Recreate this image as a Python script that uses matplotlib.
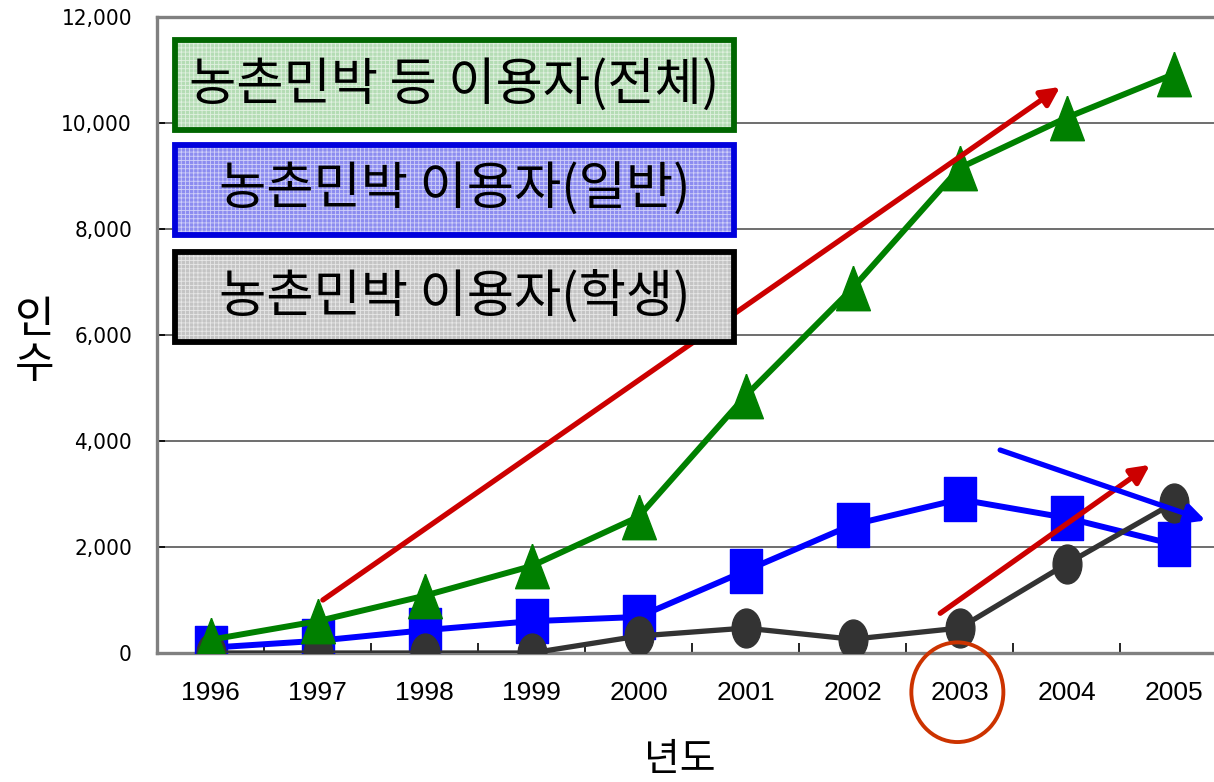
import matplotlib.pyplot as plt
import numpy as np
from matplotlib.path import Path
from matplotlib.patches import Rectangle, Ellipse

years = ['1996', '1997', '1998', '1999', '2000', '2001', '2002', '2003', '2004', '2005']
total = [250, 600, 1080, 1640, 2570, 4850, 6880, 9150, 10100, 10920]
general = [100, 230, 430, 600, 680, 1550, 2420, 2900, 2550, 2050]
student = [0, 0, 0, 0, 320, 470, 260, 470, 1680, 2830]

legend_labels = ['농촌민박 등 이용자(전체)', '농촌민박 이용자(일반)', '농촌민박 이용자(학생)']

# trend arrows drawn over the chart: (x0, y0, x1, y1) in data units
arrows = [
    (1.05, 1000, 7.94, 10680, '#cc0000'),
    (6.82, 750, 8.78, 3550, '#cc0000'),
    (7.38, 3830, 9.30, 2500, '#0000ff'),
]

kr = ['Noto Sans CJK KR', 'DejaVu Sans']
plt.rcParams['font.family'] = kr

fig = plt.figure(figsize=(12.14, 7.82), dpi=100)
ax = fig.add_axes([157 / 1214, 1 - 653 / 782, 1070 / 1214, 636 / 782])

x = np.arange(len(years))

# markers in the reference are stretched vertically
sx = 0.76
tri = Path([(0, 0.5), (-0.5 * sx, -0.5), (0.5 * sx, -0.5), (0, 0.5)])
sq = Path([(-0.5 * sx, -0.5), (0.5 * sx, -0.5), (0.5 * sx, 0.5), (-0.5 * sx, 0.5), (-0.5 * sx, -0.5)])
uc = Path.unit_circle()
circ = Path(uc.vertices * np.array([0.74, 1.0]), uc.codes)

ax.plot(x, general, color='#0000ff', lw=4.3, marker=sq, ms=31, zorder=3)
ax.plot(x, student, color='#333333', lw=3.8, marker=circ, ms=28, zorder=4)
ax.plot(x, total, color='#008000', lw=4.3, marker=tri, ms=32, zorder=5)

for x0, y0, x1, y1, c in arrows:
    ax.annotate('', xy=(x1, y1), xytext=(x0, y0),
                arrowprops=dict(arrowstyle='-|>', color=c, lw=3.8, mutation_scale=28,
                                shrinkA=0, shrinkB=0), zorder=6)

ax.add_patch(Ellipse((6.98, -740), 0.86, 1880, fill=False, edgecolor='#cc3300',
                     lw=2.8, clip_on=False, zorder=6))

ax.set_xlim(-0.5, 9.5)
ax.set_ylim(0, 12000)
ax.set_xticks(x)
ax.set_xticklabels(years, family=['Liberation Sans', 'DejaVu Sans'], fontsize=19)
ax.set_xticks(np.arange(0.5, 9.5, 1), minor=True)
ax.tick_params(axis='x', which='major', length=0, pad=20)
ax.tick_params(axis='x', which='minor', length=7, direction='in', width=1.2)
ax.set_yticks(np.arange(0, 12001, 2000))
ax.set_yticklabels(['{:,}'.format(v) for v in range(0, 12001, 2000)],
                   family=['DejaVu Sans'], fontstretch='condensed', fontsize=16)
ax.tick_params(axis='y', length=6, direction='in', width=1.2, pad=18)
ax.yaxis.grid(True, color='#555555', lw=1.2)
ax.set_axisbelow(True)

for s in ['left', 'top', 'bottom']:
    ax.spines[s].set_color('#808080')
    ax.spines[s].set_linewidth(2.4)
ax.spines['right'].set_visible(False)

fig.text(35 / 1214, 1 - 343 / 782, '인\n수', ha='center', va='center', fontsize=31, linespacing=1.05)
fig.text(680 / 1214, 1 - 760 / 782, '년도', ha='center', va='center', fontsize=28)

# legend boxes
boxes = [
    (40, '#006600', '#b4dcb4'),
    (145, '#0000dd', '#8c8cf0'),
    (252, '#000000', '#c4c4c4'),
]
plt.rcParams['hatch.linewidth'] = 0.6
for (top, ec, fc), label in zip(boxes, legend_labels):
    x0 = 175 / 1214
    w = 559 / 1214
    h = 90 / 782
    y0 = 1 - (top + 90) / 782
    fig.patches.append(Rectangle((x0, y0), w, h, transform=fig.transFigure,
                                 facecolor=fc, edgecolor='none', zorder=7))
    fig.patches.append(Rectangle((x0, y0), w, h, transform=fig.transFigure,
                                 facecolor='none', edgecolor='white', hatch='++++',
                                 lw=0, alpha=0.6, zorder=7))
    fig.patches.append(Rectangle((x0, y0), w, h, transform=fig.transFigure,
                                 facecolor='none', edgecolor=ec, lw=4.2, zorder=8))
    fig.text(x0 + w / 2, y0 + h / 2, label, ha='center', va='center',
             fontsize=37, color='black', zorder=9)

fig.savefig('out.png', dpi=100)
